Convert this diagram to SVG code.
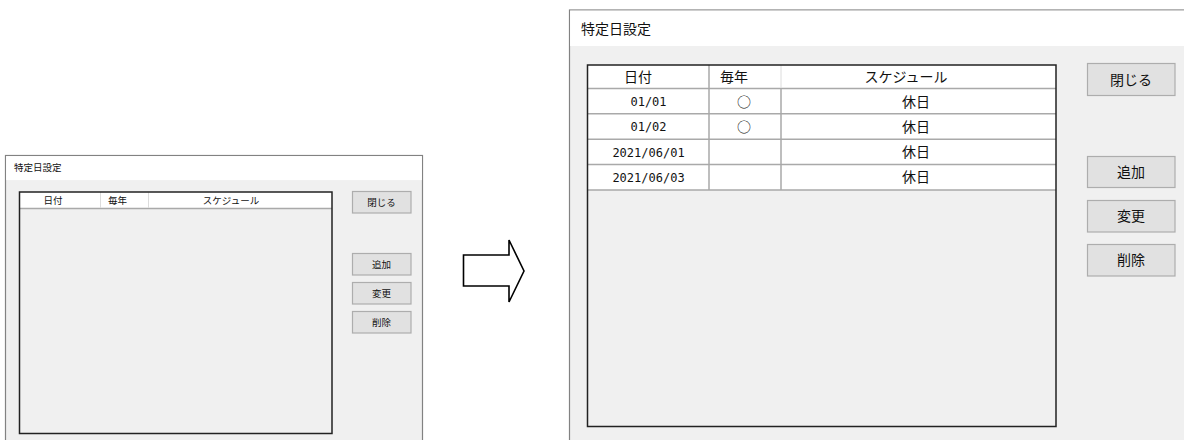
<svg xmlns="http://www.w3.org/2000/svg" width="1184" height="440" viewBox="0 0 1184 440">
<style>
.win{fill:#f0f0f0;stroke:#828282;stroke-width:1.2}
.tb{fill:#ffffff}
.btn{fill:#e1e1e1;stroke:#adadad;stroke-width:1.2}
.lst{fill:none;stroke:#222;stroke-width:1.5}
.grid{stroke:#a9a9a9;stroke-width:1.5;fill:none}
.lgrid{stroke:#dcdcdc;stroke-width:1;fill:none}
.jp{font-family:"Noto Sans CJK JP","Noto Sans",sans-serif;fill:#111}
.s{font-size:9.5px}
.m{font-size:14px}
.mono{font-family:"DejaVu Sans Mono","Liberation Mono",monospace;font-size:12px;fill:#111}
.c{text-anchor:middle}
</style>
<rect width="1184" height="440" fill="#ffffff"/>

<g id="before">
  <rect class="win" x="5.5" y="155.5" width="417" height="300"/>
  <rect class="tb" x="6.1" y="156.1" width="415.8" height="24"/>
  <text class="jp s" x="14" y="171">特定日設定</text>
  <g id="before-list">
    <rect x="20" y="192" width="312" height="16.5" fill="#ffffff"/>
    <line class="grid" x1="20" y1="208.5" x2="332" y2="208.5" stroke-width="1"/>
    <line class="lgrid" x1="100.5" y1="192" x2="100.5" y2="208"/>
    <line class="lgrid" x1="148.5" y1="192" x2="148.5" y2="208"/>
    <rect class="lst" x="19.5" y="192" width="312.5" height="241.5"/>
    <text class="jp s c" x="53" y="204">日付</text>
    <text class="jp s c" x="117.5" y="204">毎年</text>
    <text class="jp s c" x="231" y="204">スケジュール</text>
  </g>
  <g id="before-close"><rect class="btn" x="352.5" y="191.5" width="58.5" height="21.5"/><text class="jp s c" x="381.5" y="205.5">閉じる</text></g>
  <g id="before-add"><rect class="btn" x="352.5" y="253.5" width="58.5" height="21.5"/><text class="jp s c" x="381.5" y="267.5">追加</text></g>
  <g id="before-change"><rect class="btn" x="352.5" y="282.5" width="58.5" height="21.5"/><text class="jp s c" x="381.5" y="296.5">変更</text></g>
  <g id="before-delete"><rect class="btn" x="352.5" y="311.5" width="58.5" height="21.5"/><text class="jp s c" x="381.5" y="325.5">削除</text></g>
</g>

<g id="connectors">
  <polygon points="463.5,255 509,255 509,240 524,271 509,302 509,286 463.5,286" fill="#ffffff" stroke="#000" stroke-width="1.6" stroke-linejoin="miter"/>
</g>

<g id="after">
  <rect class="win" x="569.5" y="10" width="640" height="450"/>
  <rect class="tb" x="570.1" y="10.6" width="620" height="35.4"/>
  <text class="jp m" x="581" y="34">特定日設定</text>
  <g id="after-list">
    <rect x="588" y="65" width="468" height="125" fill="#ffffff"/>
    <line class="grid" x1="588" y1="88.5" x2="1056" y2="88.5"/>
    <line class="grid" x1="588" y1="113.8" x2="1056" y2="113.8"/>
    <line class="grid" x1="588" y1="139.3" x2="1056" y2="139.3"/>
    <line class="grid" x1="588" y1="164.5" x2="1056" y2="164.5"/>
    <line class="grid" x1="588" y1="190" x2="1056" y2="190"/>
    <line class="grid" x1="709" y1="65" x2="709" y2="190"/>
    <line class="lgrid" x1="781" y1="65" x2="781" y2="88"/>
    <line class="grid" x1="781" y1="88" x2="781" y2="190"/>
    <rect class="lst" x="587.5" y="65" width="468.5" height="361.5"/>
    <text class="jp m c" x="638" y="82">日付</text>
    <text class="jp m c" x="734" y="82">毎年</text>
    <text class="jp m c" x="906" y="82">スケジュール</text>
    <text class="mono c" x="648.5" y="106">01/01</text>
    <text class="jp m c" x="744" y="107">○</text>
    <text class="jp m c" x="916" y="107">休日</text>
    <text class="mono c" x="648.5" y="131">01/02</text>
    <text class="jp m c" x="744" y="132">○</text>
    <text class="jp m c" x="916" y="132">休日</text>
    <text class="mono c" x="648.5" y="157">2021/06/01</text>
    <text class="jp m c" x="916" y="157">休日</text>
    <text class="mono c" x="648.5" y="182">2021/06/03</text>
    <text class="jp m c" x="916" y="182">休日</text>
  </g>
  <g id="after-close"><rect class="btn" x="1087.5" y="63.5" width="87.5" height="32"/><text class="jp m c" x="1131" y="84.5">閉じる</text></g>
  <g id="after-add"><rect class="btn" x="1087.5" y="156.5" width="87.5" height="31"/><text class="jp m c" x="1131" y="177">追加</text></g>
  <g id="after-change"><rect class="btn" x="1087.5" y="200.5" width="87.5" height="31.5"/><text class="jp m c" x="1131" y="221">変更</text></g>
  <g id="after-delete"><rect class="btn" x="1087.5" y="244.5" width="87.5" height="31.5"/><text class="jp m c" x="1131" y="265">削除</text></g>
</g>
</svg>
